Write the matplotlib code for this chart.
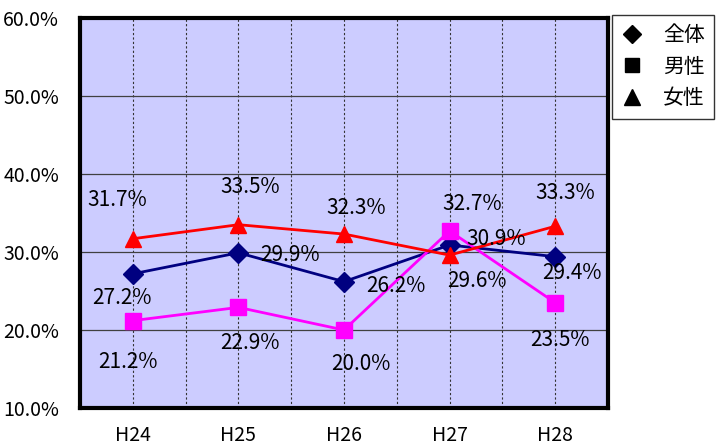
import matplotlib
matplotlib.use("Agg")
import matplotlib.pyplot as plt
from matplotlib.lines import Line2D
from matplotlib.ticker import FuncFormatter, MultipleLocator

plt.rcParams['font.family'] = ['Noto Sans CJK JP', 'DejaVu Sans']

categories = ["H24", "H25", "H26", "H27", "H28"]
series_names = ["全体", "男性", "女性"]
total = [27.2, 29.9, 26.2, 30.9, 29.4]
male = [21.2, 22.9, 20.0, 32.7, 23.5]
female = [31.7, 33.5, 32.3, 29.6, 33.3]

# label offsets in pixels (dx, dy) relative to the point
off_total = [(-11, -24), (52, -2), (52, -4), (47, 6), (17, -16)]
off_male = [(-5, -41), (12, -36), (17, -34), (23, 27), (5, -37)]
off_female = [(-16, 39), (12, 38), (12, 26), (27, -26), (10, 33)]

fig = plt.figure(figsize=(7.17, 4.45), dpi=100)
ax = fig.add_axes([80 / 717, 37 / 445, 528 / 717, 390 / 445])
ax.set_facecolor("#CCCCFF")

x = list(range(len(categories)))
styles = [
    (total, "#000080", "D", 10, off_total),
    (male, "#FF00FF", "s", 11, off_male),
    (female, "#FF0000", "^", 11, off_female),
]
for vals, col, mk, ms, offs in styles:
    ax.plot(x, vals, color=col, lw=2, marker=mk, ms=ms, mec=col, mfc=col, zorder=3)
for vals, col, mk, ms, offs in styles:
    for xi, v, (dx, dy) in zip(x, vals, offs):
        ax.annotate(f"{v:.1f}%", (xi, v), xytext=(dx, dy), textcoords="offset pixels",
                    ha="center", va="center", fontsize=15, color="black", zorder=4)

ax.set_xlim(-0.5, len(categories) - 0.5)
ax.set_ylim(10, 60)
ax.yaxis.set_major_locator(MultipleLocator(10))
ax.yaxis.set_major_formatter(FuncFormatter(lambda v, p: f"{v:.1f}%"))
ax.set_xticks(x)
ax.set_xticklabels(categories)

ax.grid(axis="y", which="major", color="#404040", lw=0.9, ls="-", zorder=1)
for xi in [i * 0.5 - 0.5 for i in range(2 * len(categories) + 1)]:
    ax.axvline(xi, color="#333333", lw=0.8, ls=(0, (2, 2)), zorder=1)

ax.tick_params(axis="both", which="both", length=0)
ax.tick_params(axis="y", pad=15, labelsize=14)
ax.tick_params(axis="x", pad=12, labelsize=14)
for sp in ax.spines.values():
    sp.set_linewidth(3)
    sp.set_color("black")
    sp.set_zorder(5)

handles = [Line2D([], [], ls="none", marker=m, color="black", ms=s)
           for m, s in [("D", 9), ("s", 10), ("^", 11)]]
leg = fig.legend(handles, series_names, loc="upper left",
                 bbox_to_anchor=(612 / 717, 1 - 15 / 445), frameon=True,
                 fancybox=False, edgecolor="black", fontsize=15,
                 handlelength=1.0, handletextpad=1.0, labelspacing=0.45,
                 borderpad=0.45, borderaxespad=0)
leg.get_frame().set_linewidth(1)

fig.savefig("out.png", dpi=100)
